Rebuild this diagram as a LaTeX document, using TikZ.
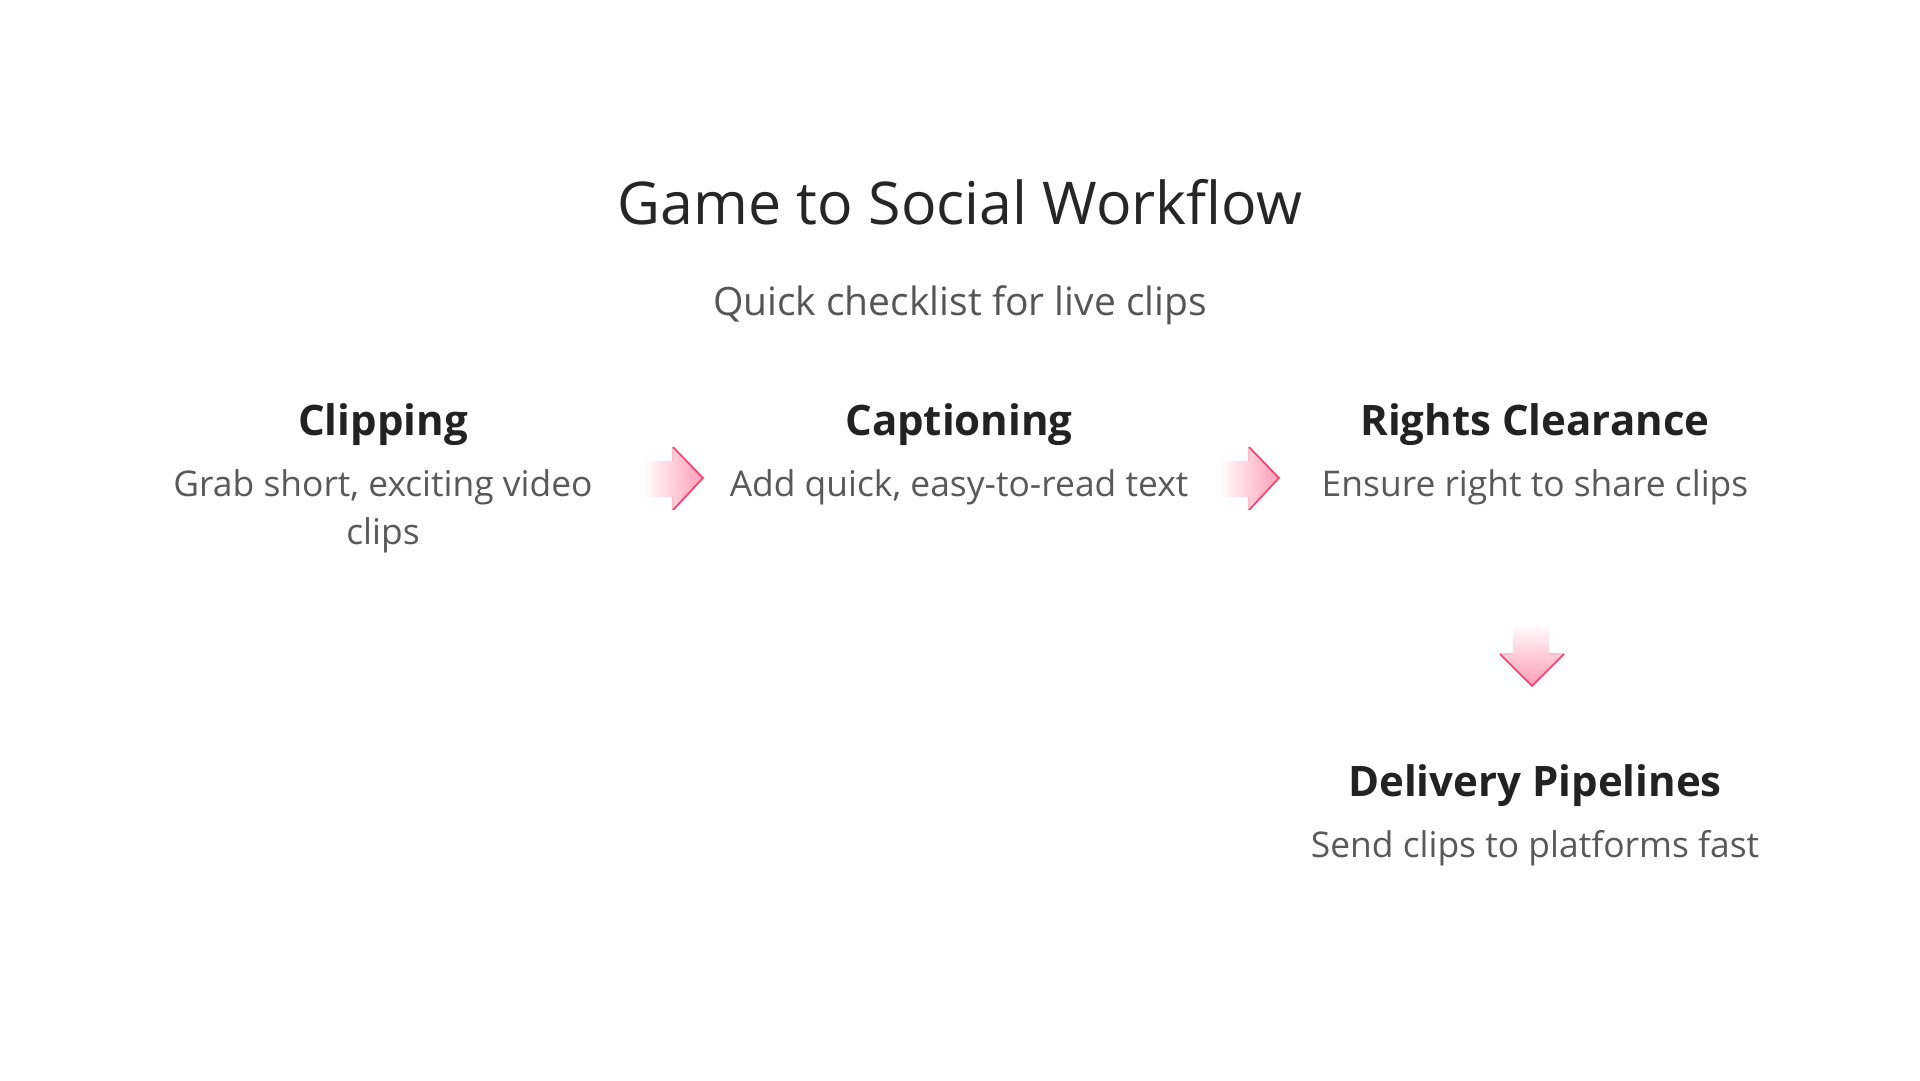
\documentclass[tikz,border=0pt]{standalone}
\usepackage{fontspec}
\setmainfont{Open Sans}
\definecolor{titlec}{HTML}{262626}
\definecolor{subc}{HTML}{555555}
\definecolor{headc}{HTML}{222222}
\definecolor{descc}{HTML}{595959}
\definecolor{pinkfill}{HTML}{FF9DB8}
\definecolor{pinkedge}{HTML}{FFBCCD}
\definecolor{pinktip}{HTML}{FF3A6A}
\tikzset{
  titletext/.style={font=\fontsize{59}{70}\selectfont, text=titlec, inner sep=0pt, anchor=base},
  subtext/.style={font=\fontsize{39}{46}\selectfont, text=subc, inner sep=0pt, anchor=base},
  headtext/.style={font=\bfseries\fontsize{42}{50}\selectfont, text=headc, inner sep=0pt, anchor=base},
  desctext/.style={font=\fontsize{35.4}{48}\selectfont, text=descc, inner sep=0pt, anchor=base, align=center},
  edgeback/.style={draw=pinkedge, line width=1.6pt, line join=miter},
  edgefront/.style={draw=pinktip, line width=1.6pt, line join=miter},
}
\begin{document}
\begin{tikzpicture}[x=1pt,y=-1pt]
\useasboundingbox[fill=white] (0,0) rectangle (1920,1080);
% titles
\node[titletext] (title) at (960,224) {Game to Social Workflow};
\node[subtext] (subtitle) at (960,315) {Quick checklist for live clips};
% steps
\node[headtext] (h1) at (383,435) {Clipping};
\node[desctext] (d1) at (383,544) {Grab short, exciting video\\clips};
\node[headtext] (h2) at (959,435) {Captioning};
\node[desctext] (d2) at (959,496) {Add quick, easy-to-read text};
\node[headtext] (h3) at (1535,435) {Rights Clearance};
\node[desctext] (d3) at (1535,496) {Ensure right to share clips};
\node[headtext] (h4) at (1535,796) {Delivery Pipelines};
\node[desctext] (d4) at (1535,857) {Send clips to platforms fast};
% right arrow 1
\path[left color=white, right color=pinkfill]
  (643,461) -- (673,461) -- (673,447) -- (703,478) -- (673,510) -- (673,497) -- (643,497) -- cycle;
\draw[edgeback] (673,461) -- (673,447);
\draw[edgeback] (673,510) -- (673,497);
\draw[edgefront] (673,447) -- (703,478) -- (673,510);
% right arrow 2
\path[left color=white, right color=pinkfill]
  (1219,461) -- (1249,461) -- (1249,447) -- (1279,478) -- (1249,510) -- (1249,497) -- (1219,497) -- cycle;
\draw[edgeback] (1249,461) -- (1249,447);
\draw[edgeback] (1249,510) -- (1249,497);
\draw[edgefront] (1249,447) -- (1279,478) -- (1249,510);
% down arrow
\path[top color=white, bottom color=pinkfill]
  (1513,623) -- (1549,623) -- (1549,654) -- (1564,654) -- (1532,686) -- (1500,654) -- (1513,654) -- cycle;
\draw[edgeback] (1549,654) -- (1564,654);
\draw[edgeback] (1500,654) -- (1513,654);
\draw[edgefront] (1564,654) -- (1532,686) -- (1500,654);
\end{tikzpicture}
\end{document}
